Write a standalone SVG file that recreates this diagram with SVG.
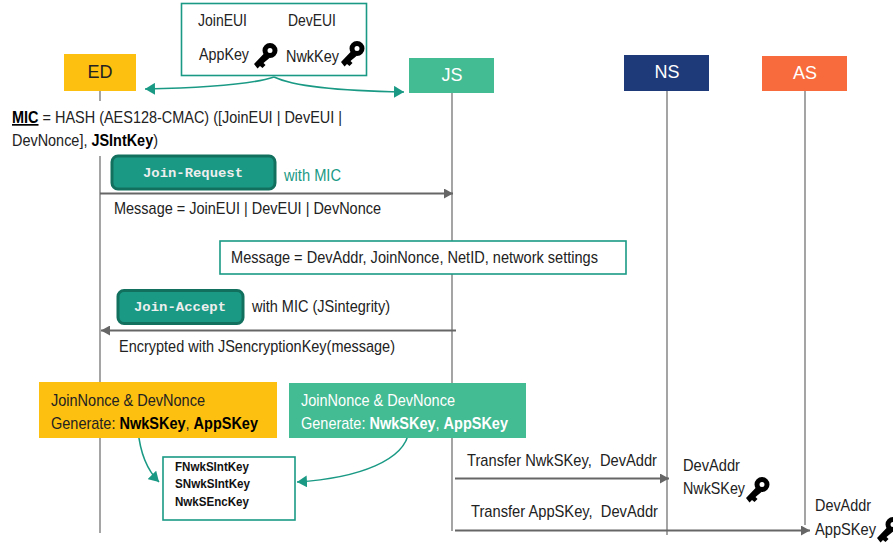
<svg xmlns="http://www.w3.org/2000/svg" width="893" height="545" viewBox="0 0 893 545">
<style>
text{font-family:"Liberation Sans",Arial,sans-serif;font-size:17px;fill:#222;white-space:pre}
.b{font-weight:700;fill:#000}
.w{fill:#fff}
.hd{font-size:18px;text-anchor:middle}
.life{stroke:#7f7f7f;stroke-width:1.4;fill:none}
.msg{stroke:#666;stroke-width:2.2;fill:none}
.teal{stroke:#1a9a85;stroke-width:1.6;fill:none}
.box{fill:#fff;stroke:#1a9a85;stroke-width:1.6}
.pill{fill:#1a9a85;stroke:#12705f;stroke-width:3}
.mono{font-family:"Liberation Mono",monospace;font-size:13.500px;font-weight:700;fill:#eee}
.small{font-size:12.500px;font-weight:700;fill:#111}
</style>
<defs>
<marker id="ag" markerUnits="userSpaceOnUse" markerWidth="10" markerHeight="10" refX="9" refY="5" orient="auto"><path d="M0 0L9 5L0 10z" fill="#666"/></marker>
<marker id="at" markerUnits="userSpaceOnUse" markerWidth="11" markerHeight="12" refX="10" refY="6" orient="auto"><path d="M0 0L10 6L0 12z" fill="#1a9a85"/></marker>
<g id="key"><circle cx="16" cy="7.500" r="5" fill="none" stroke="#000" stroke-width="5"/><path d="M10.500 10L0 21L3.500 25.500L6 23L8.500 25L11.500 22L9.500 20L15.500 15z" fill="#000"/></g>
</defs>
<g id="connectors">
<path class="life" d="M100 91V101M100 156V533M452 93V531M667 91V535M805 91V525"/>
<path class="msg" d="M100 193.500H453" marker-end="url(#ag)"/>
<path class="msg" d="M456 330.500H101" marker-end="url(#ag)"/>
<path class="msg" d="M455 478.500H669" marker-end="url(#ag)"/>
<path class="msg" d="M455 530.500H810" marker-end="url(#ag)"/>
<path class="teal" d="M274 77C250 85 200 88 145 89" marker-end="url(#at)"/>
<path class="teal" d="M274 77C295 87 345 91 404 92" marker-end="url(#at)"/>
<path class="teal" d="M138 430C140 452 147 470 159 482" marker-end="url(#at)"/>
<path class="teal" d="M409 431C405 460 360 478 297 482" marker-end="url(#at)"/>
</g>
<g id="credentials">
<rect class="box" x="181.500" y="3.500" width="185" height="72"/>
<text x="198" y="26" textLength="49" lengthAdjust="spacingAndGlyphs">JoinEUI</text>
<text x="288" y="26" textLength="48" lengthAdjust="spacingAndGlyphs">DevEUI</text>
<text x="199" y="60" textLength="50" lengthAdjust="spacingAndGlyphs">AppKey</text>
<text x="286" y="62" textLength="53" lengthAdjust="spacingAndGlyphs">NwkKey</text>
<use href="#key" x="254" y="43"/>
<use href="#key" x="341" y="41"/>
</g>
<g id="ED"><rect x="64" y="54" width="72" height="37" fill="#fdbf10"/><text class="hd" x="100" y="78">ED</text></g>
<g id="JS"><rect x="409" y="58" width="85" height="35" fill="#43bb93"/><text class="hd w" x="452" y="81">JS</text></g>
<g id="NS"><rect x="624" y="55" width="85" height="36" fill="#1f3a78"/><text class="hd w" x="667" y="78">NS</text></g>
<g id="AS"><rect x="762" y="56" width="85" height="35" fill="#f76b3c"/><text class="hd w" x="805" y="79">AS</text></g>
<g id="mic-formula">
<text x="12" y="123" textLength="330" lengthAdjust="spacingAndGlyphs"><tspan class="b" text-decoration="underline">MIC</tspan> = HASH (AES128-CMAC) ([JoinEUI | DevEUI |</text>
<text x="12" y="146" textLength="146" lengthAdjust="spacingAndGlyphs">DevNonce], <tspan class="b">JSIntKey</tspan>)</text>
</g>
<g id="join-request">
<rect class="pill" x="112" y="156" width="163" height="33" rx="6"/>
<text class="mono" x="143" y="177" textLength="100" lengthAdjust="spacingAndGlyphs">Join-Request</text>
<text x="284" y="181" textLength="57" lengthAdjust="spacingAndGlyphs" style="fill:#1a9a85">with MIC</text>
<text x="114" y="214" textLength="267" lengthAdjust="spacingAndGlyphs">Message = JoinEUI | DevEUI | DevNonce</text>
</g>
<g id="accept-message">
<rect class="box" x="220" y="241" width="406" height="33"/>
<text x="231" y="263" textLength="367" lengthAdjust="spacingAndGlyphs">Message = DevAddr, JoinNonce, NetID, network settings</text>
</g>
<g id="join-accept">
<rect class="pill" x="118" y="290.500" width="125" height="33" rx="6"/>
<text class="mono" x="134" y="311" textLength="92" lengthAdjust="spacingAndGlyphs">Join-Accept</text>
<text x="252" y="312" textLength="138" lengthAdjust="spacingAndGlyphs">with MIC (JSintegrity)</text>
<text x="119" y="352" textLength="276" lengthAdjust="spacingAndGlyphs">Encrypted with JSencryptionKey(message)</text>
</g>
<g id="ed-generate">
<rect x="39" y="382" width="238" height="56" fill="#fdbf10"/>
<text x="51" y="406" textLength="154" lengthAdjust="spacingAndGlyphs">JoinNonce &amp; DevNonce</text>
<text x="51" y="429" textLength="207" lengthAdjust="spacingAndGlyphs">Generate: <tspan class="b">NwkSKey</tspan>, <tspan class="b">AppSKey</tspan></text>
</g>
<g id="js-generate">
<rect x="289" y="383" width="237" height="55" fill="#43bb93"/>
<text class="w" x="301" y="406" textLength="154" lengthAdjust="spacingAndGlyphs">JoinNonce &amp; DevNonce</text>
<text class="w" x="301" y="429" textLength="207" lengthAdjust="spacingAndGlyphs">Generate: <tspan class="b w">NwkSKey</tspan>, <tspan class="b w">AppSKey</tspan></text>
</g>
<g id="session-keys">
<rect class="box" x="163" y="457" width="132" height="63"/>
<text class="small" x="175" y="471" textLength="74" lengthAdjust="spacingAndGlyphs">FNwkSIntKey</text>
<text class="small" x="175" y="488" textLength="75" lengthAdjust="spacingAndGlyphs">SNwkSIntKey</text>
<text class="small" x="175" y="506" textLength="74" lengthAdjust="spacingAndGlyphs">NwkSEncKey</text>
</g>
<g id="transfers">
<text x="467" y="466" textLength="190" lengthAdjust="spacingAndGlyphs">Transfer NwkSKey,  DevAddr</text>
<text x="471" y="517" textLength="187" lengthAdjust="spacingAndGlyphs">Transfer AppSKey,  DevAddr</text>
</g>
<g id="ns-keys">
<text x="683" y="471" textLength="57" lengthAdjust="spacingAndGlyphs">DevAddr</text>
<text x="683" y="494" textLength="62" lengthAdjust="spacingAndGlyphs">NwkSKey</text>
<use href="#key" x="746" y="477"/>
</g>
<g id="as-keys">
<text x="815" y="511" textLength="56" lengthAdjust="spacingAndGlyphs">DevAddr</text>
<text x="815" y="535" textLength="61" lengthAdjust="spacingAndGlyphs">AppSKey</text>
<use href="#key" x="877" y="517"/>
</g>
</svg>
